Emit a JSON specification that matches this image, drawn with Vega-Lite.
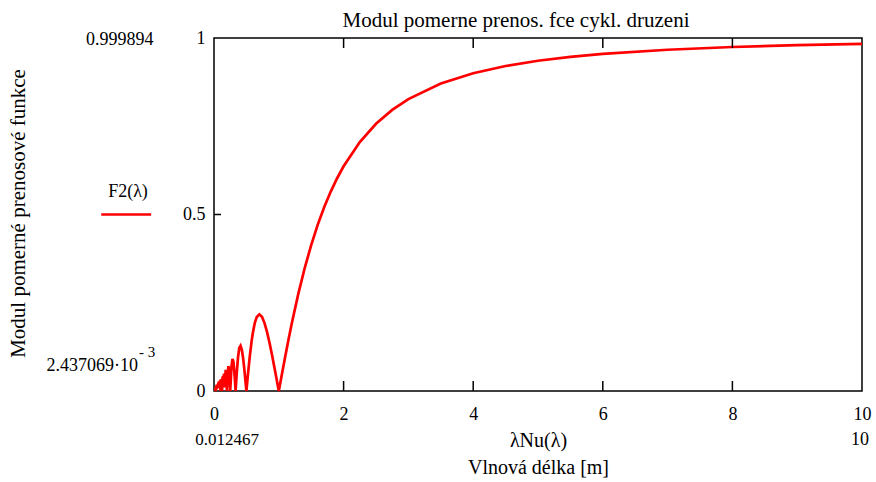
{
  "$schema": "https://vega.github.io/schema/vega-lite/v6.json",
  "width": 648,
  "height": 353,
  "autosize": {"type": "none"},
  "padding": {"left": 214, "top": 38, "right": 14, "bottom": 91},
  "background": "white",
  "config": {
    "font": "Liberation Serif",
    "view": {"stroke": "black", "strokeWidth": 1.5},
    "axis": {"grid": false, "domain": false, "labelFont": "Liberation Serif", "titleFont": "Liberation Serif", "labelColor": "black", "titleColor": "black", "tickColor": "black", "titleFontWeight": "normal"}
  },
  "title": {
    "text": "Modul pomerne prenos. fce cykl. druzeni",
    "font": "Liberation Serif",
    "fontSize": 21,
    "fontWeight": "normal",
    "color": "black",
    "anchor": "middle",
    "dx": -22,
    "offset": -2
  },
  "datasets": {
    "f2": [
      {"lam": 0.012467, "F2": 0.00245},
      {"lam": 0.021, "F2": 0.00622},
      {"lam": 0.025, "F2": 0},
      {"lam": 0.03, "F2": 0.00827},
      {"lam": 0.035, "F2": 0.01086},
      {"lam": 0.041, "F2": 0.01228},
      {"lam": 0.045, "F2": 0.00921},
      {"lam": 0.052, "F2": 0.01098},
      {"lam": 0.055, "F2": 0.00946},
      {"lam": 0.06, "F2": 0.01654},
      {"lam": 0.065, "F2": 0.01935},
      {"lam": 0.07, "F2": 0.01742},
      {"lam": 0.075, "F2": 0.02067},
      {"lam": 0.08, "F2": 0.02546},
      {"lam": 0.085, "F2": 0.01824},
      {"lam": 0.09, "F2": 0.0098},
      {"lam": 0.095, "F2": 0.03014},
      {"lam": 0.1, "F2": 0},
      {"lam": 0.105, "F2": 0.03333},
      {"lam": 0.11, "F2": 0.00986},
      {"lam": 0.115, "F2": 0.02991},
      {"lam": 0.12, "F2": 0.03308},
      {"lam": 0.125, "F2": 0},
      {"lam": 0.13, "F2": 0.03406},
      {"lam": 0.135, "F2": 0.04116},
      {"lam": 0.14, "F2": 0.01934},
      {"lam": 0.145, "F2": 0.01472},
      {"lam": 0.15, "F2": 0.04135},
      {"lam": 0.155, "F2": 0.04877},
      {"lam": 0.16, "F2": 0.03601},
      {"lam": 0.165, "F2": 0.00993},
      {"lam": 0.17, "F2": 0.01955},
      {"lam": 0.175, "F2": 0.04355},
      {"lam": 0.18, "F2": 0.05643},
      {"lam": 0.185, "F2": 0.05631},
      {"lam": 0.19, "F2": 0.04449},
      {"lam": 0.195, "F2": 0.02435},
      {"lam": 0.2, "F2": 0},
      {"lam": 0.21, "F2": 0.04547},
      {"lam": 0.222, "F2": 0.07066},
      {"lam": 0.235, "F2": 0.05377},
      {"lam": 0.25, "F2": 0},
      {"lam": 0.27, "F2": 0.06893},
      {"lam": 0.285, "F2": 0.09068},
      {"lam": 0.3, "F2": 0.0827},
      {"lam": 0.315, "F2": 0.05229},
      {"lam": 0.3333, "F2": 0},
      {"lam": 0.35, "F2": 0.04834},
      {"lam": 0.37, "F2": 0.09468},
      {"lam": 0.39, "F2": 0.12164},
      {"lam": 0.41, "F2": 0.12811},
      {"lam": 0.43, "F2": 0.11682},
      {"lam": 0.45, "F2": 0.09207},
      {"lam": 0.47, "F2": 0.0584},
      {"lam": 0.5, "F2": 0},
      {"lam": 0.52, "F2": 0.03961},
      {"lam": 0.55, "F2": 0.09465},
      {"lam": 0.58, "F2": 0.14071},
      {"lam": 0.6, "F2": 0.1654},
      {"lam": 0.63, "F2": 0.19303},
      {"lam": 0.66, "F2": 0.20985},
      {"lam": 0.7, "F2": 0.21723},
      {"lam": 0.74, "F2": 0.21032},
      {"lam": 0.78, "F2": 0.19231},
      {"lam": 0.82, "F2": 0.16608},
      {"lam": 0.86, "F2": 0.13398},
      {"lam": 0.9, "F2": 0.09798},
      {"lam": 0.95, "F2": 0.04977},
      {"lam": 1, "F2": 0},
      {"lam": 1.05, "F2": 0.04981},
      {"lam": 1.1, "F2": 0.09865},
      {"lam": 1.15, "F2": 0.14583},
      {"lam": 1.2, "F2": 0.19099},
      {"lam": 1.3, "F2": 0.2744},
      {"lam": 1.4, "F2": 0.34841},
      {"lam": 1.5, "F2": 0.4135},
      {"lam": 1.6, "F2": 0.47053},
      {"lam": 1.7, "F2": 0.52047},
      {"lam": 1.8, "F2": 0.56425},
      {"lam": 1.9, "F2": 0.60273},
      {"lam": 2, "F2": 0.63662},
      {"lam": 2.25, "F2": 0.70532},
      {"lam": 2.5, "F2": 0.75683},
      {"lam": 2.75, "F2": 0.79625},
      {"lam": 3, "F2": 0.82699},
      {"lam": 3.5, "F2": 0.87102},
      {"lam": 4, "F2": 0.90032},
      {"lam": 4.5, "F2": 0.92073},
      {"lam": 5, "F2": 0.93549},
      {"lam": 5.5, "F2": 0.9465},
      {"lam": 6, "F2": 0.95493},
      {"lam": 7, "F2": 0.96677},
      {"lam": 8, "F2": 0.9745},
      {"lam": 9, "F2": 0.97981},
      {"lam": 10, "F2": 0.98363}
    ],
    "xticks": [{"t": 2}, {"t": 4}, {"t": 6}, {"t": 8}],
    "one": [{}]
  },
  "layer": [
    {
      "data": {"name": "f2"},
      "mark": {"type": "line", "color": "#ff0000", "strokeWidth": 2.7, "interpolate": "linear"},
      "encoding": {
        "x": {
          "field": "lam", "type": "quantitative",
          "scale": {"domain": [0, 10], "nice": false, "zero": false},
          "axis": {
            "orient": "bottom", "values": [0, 2, 4, 6, 8, 10], "format": "d",
            "ticks": false, "labelPadding": 14, "labelFontSize": 18,
            "labelFlush": false, "labelOverlap": false,
            "title": ["λNu(λ)", "Vlnová délka [m]"],
            "titleFontSize": 20, "titleLineHeight": 27,
            "titleX": 324, "titleY": 49, "titleAnchor": null, "titleAlign": "center", "titleBaseline": "middle"
          }
        },
        "y": {
          "field": "F2", "type": "quantitative",
          "scale": {"domain": [0, 1], "nice": false, "zero": false},
          "axis": {
            "orient": "left", "values": [0, 0.5, 1],
            "ticks": false, "labelPadding": 9, "labelFontSize": 18,
            "labelFlush": false, "labelOverlap": false,
            "labelExpr": "datum.value === 0.5 ? '0.5' : format(datum.value, 'd')",
            "title": "Modul pomerné prenosové funkce", "titleFontSize": 21,
            "titleX": -196, "titleY": 175, "titleAngle": -90, "titleAlign": "center", "titleBaseline": "middle"
          }
        }
      }
    },
    {
      "data": {"name": "xticks"},
      "mark": {"type": "tick", "orient": "vertical", "color": "black", "size": 10, "thickness": 1.5, "opacity": 1, "yOffset": -5},
      "encoding": {
        "x": {"field": "t", "type": "quantitative"},
        "y": {"datum": 0, "type": "quantitative"}
      }
    },
    {
      "data": {"name": "xticks"},
      "mark": {"type": "tick", "orient": "vertical", "color": "black", "size": 10, "thickness": 1.5, "opacity": 1, "yOffset": 5},
      "encoding": {
        "x": {"field": "t", "type": "quantitative"},
        "y": {"datum": 1, "type": "quantitative"}
      }
    },
    {
      "data": {"name": "one"},
      "mark": {"type": "tick", "orient": "horizontal", "color": "black", "size": 7, "thickness": 1.5, "opacity": 1, "xOffset": 3.5},
      "encoding": {
        "x": {"datum": 0, "type": "quantitative"},
        "y": {"datum": 0.5, "type": "quantitative"}
      }
    },
    {
      "data": {"name": "one"},
      "mark": {"type": "rule", "color": "#ff0000", "strokeWidth": 2.7},
      "encoding": {
        "x": {"datum": -1.74, "type": "quantitative"},
        "x2": {"datum": -0.97},
        "y": {"datum": 0.5, "type": "quantitative"}
      }
    },
    {
      "data": {"name": "one"},
      "mark": {"type": "text", "fontSize": 18, "color": "black", "align": "center", "baseline": "middle", "dx": -86, "dy": -23},
      "encoding": {
        "x": {"datum": 0, "type": "quantitative"},
        "y": {"datum": 0.5, "type": "quantitative"},
        "text": {"value": "F2(λ)"}
      }
    },
    {
      "data": {"name": "one"},
      "mark": {"type": "text", "fontSize": 18, "color": "black", "align": "left", "baseline": "middle", "dx": -128, "dy": 2},
      "encoding": {
        "x": {"datum": 0, "type": "quantitative"},
        "y": {"datum": 1, "type": "quantitative"},
        "text": {"value": "0.999894"}
      }
    },
    {
      "data": {"name": "one"},
      "mark": {"type": "text", "fontSize": 18, "color": "black", "align": "right", "baseline": "middle", "dx": -76, "dy": -25},
      "encoding": {
        "x": {"datum": 0, "type": "quantitative"},
        "y": {"datum": 0, "type": "quantitative"},
        "text": {"value": "2.437069·10"}
      }
    },
    {
      "data": {"name": "one"},
      "mark": {"type": "text", "fontSize": 15, "color": "black", "align": "left", "baseline": "middle", "dx": -75, "dy": -39},
      "encoding": {
        "x": {"datum": 0, "type": "quantitative"},
        "y": {"datum": 0, "type": "quantitative"},
        "text": {"value": "- 3"}
      }
    },
    {
      "data": {"name": "one"},
      "mark": {"type": "text", "fontSize": 17, "color": "black", "align": "center", "baseline": "middle", "dx": 13, "dy": 49},
      "encoding": {
        "x": {"datum": 0, "type": "quantitative"},
        "y": {"datum": 0, "type": "quantitative"},
        "text": {"value": "0.012467"}
      }
    },
    {
      "data": {"name": "one"},
      "mark": {"type": "text", "fontSize": 18, "color": "black", "align": "center", "baseline": "middle", "dx": -2, "dy": 49},
      "encoding": {
        "x": {"datum": 10, "type": "quantitative"},
        "y": {"datum": 0, "type": "quantitative"},
        "text": {"value": "10"}
      }
    }
  ]
}
